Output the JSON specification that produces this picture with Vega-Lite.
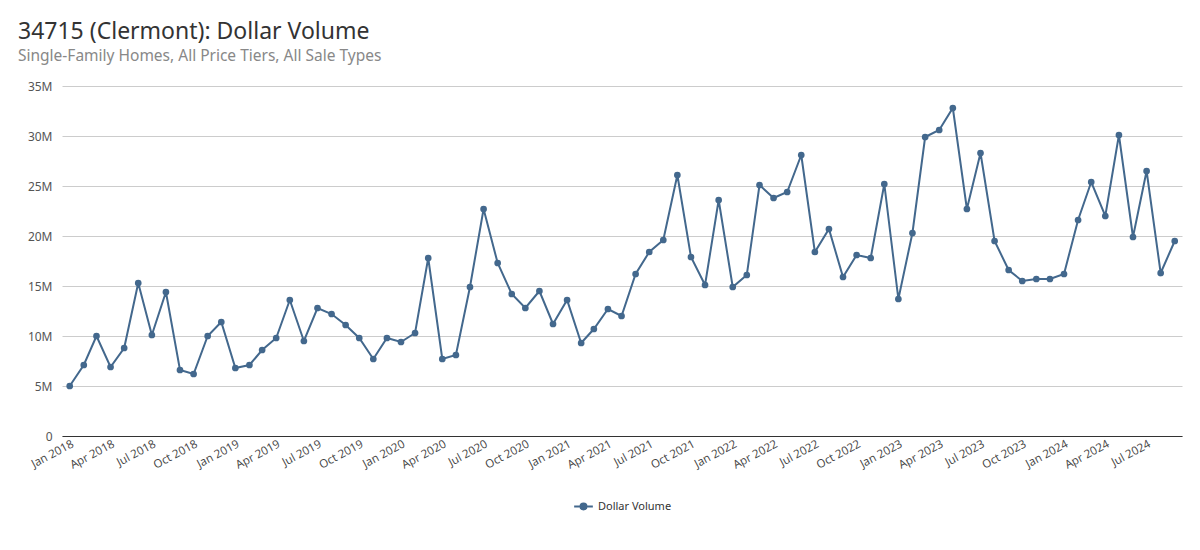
{
  "$schema": "https://vega.github.io/schema/vega-lite/v6.json",
  "width": 1200,
  "height": 550,
  "autosize": {"type": "fit", "contains": "padding"},
  "padding": {"left": 18, "top": 20, "right": 18, "bottom": 36},
  "background": "white",
  "title": {
    "text": "34715 (Clermont): Dollar Volume",
    "subtitle": "Single-Family Homes, All Price Tiers, All Sale Types",
    "anchor": "start",
    "frame": "group",
    "dx": -44,
    "font": "Noto Sans",
    "fontSize": 23,
    "fontWeight": "normal",
    "color": "#333333",
    "subtitleFont": "Noto Sans",
    "subtitleFontSize": 15.5,
    "subtitleColor": "#888888",
    "subtitlePadding": 5,
    "offset": 16
  },
  "config": {
    "view": {"stroke": null},
    "font": "Noto Sans",
    "legend": {"layout": {"bottom": {"anchor": "middle"}}}
  },
  "data": {
    "values": [
      {"date": "2018-01-01", "v": 5.0},
      {"date": "2018-02-01", "v": 7.1},
      {"date": "2018-03-01", "v": 10.0},
      {"date": "2018-04-01", "v": 6.9},
      {"date": "2018-05-01", "v": 8.8},
      {"date": "2018-06-01", "v": 15.3},
      {"date": "2018-07-01", "v": 10.1},
      {"date": "2018-08-01", "v": 14.4},
      {"date": "2018-09-01", "v": 6.6},
      {"date": "2018-10-01", "v": 6.2},
      {"date": "2018-11-01", "v": 10.0},
      {"date": "2018-12-01", "v": 11.4},
      {"date": "2019-01-01", "v": 6.8},
      {"date": "2019-02-01", "v": 7.1},
      {"date": "2019-03-01", "v": 8.6},
      {"date": "2019-04-01", "v": 9.8},
      {"date": "2019-05-01", "v": 13.6},
      {"date": "2019-06-01", "v": 9.5},
      {"date": "2019-07-01", "v": 12.8},
      {"date": "2019-08-01", "v": 12.2},
      {"date": "2019-09-01", "v": 11.1},
      {"date": "2019-10-01", "v": 9.8},
      {"date": "2019-11-01", "v": 7.7},
      {"date": "2019-12-01", "v": 9.8},
      {"date": "2020-01-01", "v": 9.4},
      {"date": "2020-02-01", "v": 10.3},
      {"date": "2020-03-01", "v": 17.8},
      {"date": "2020-04-01", "v": 7.7},
      {"date": "2020-05-01", "v": 8.1},
      {"date": "2020-06-01", "v": 14.9},
      {"date": "2020-07-01", "v": 22.7},
      {"date": "2020-08-01", "v": 17.3},
      {"date": "2020-09-01", "v": 14.2},
      {"date": "2020-10-01", "v": 12.8},
      {"date": "2020-11-01", "v": 14.5},
      {"date": "2020-12-01", "v": 11.2},
      {"date": "2021-01-01", "v": 13.6},
      {"date": "2021-02-01", "v": 9.3},
      {"date": "2021-03-01", "v": 10.7},
      {"date": "2021-04-01", "v": 12.7},
      {"date": "2021-05-01", "v": 12.0},
      {"date": "2021-06-01", "v": 16.2},
      {"date": "2021-07-01", "v": 18.4},
      {"date": "2021-08-01", "v": 19.6},
      {"date": "2021-09-01", "v": 26.1},
      {"date": "2021-10-01", "v": 17.9},
      {"date": "2021-11-01", "v": 15.1},
      {"date": "2021-12-01", "v": 23.6},
      {"date": "2022-01-01", "v": 14.9},
      {"date": "2022-02-01", "v": 16.1},
      {"date": "2022-03-01", "v": 25.1},
      {"date": "2022-04-01", "v": 23.8},
      {"date": "2022-05-01", "v": 24.4},
      {"date": "2022-06-01", "v": 28.1},
      {"date": "2022-07-01", "v": 18.4},
      {"date": "2022-08-01", "v": 20.7},
      {"date": "2022-09-01", "v": 15.9},
      {"date": "2022-10-01", "v": 18.1},
      {"date": "2022-11-01", "v": 17.8},
      {"date": "2022-12-01", "v": 25.2},
      {"date": "2023-01-01", "v": 13.7},
      {"date": "2023-02-01", "v": 20.3},
      {"date": "2023-03-01", "v": 29.9},
      {"date": "2023-04-01", "v": 30.6},
      {"date": "2023-05-01", "v": 32.8},
      {"date": "2023-06-01", "v": 22.7},
      {"date": "2023-07-01", "v": 28.3},
      {"date": "2023-08-01", "v": 19.5},
      {"date": "2023-09-01", "v": 16.6},
      {"date": "2023-10-01", "v": 15.5},
      {"date": "2023-11-01", "v": 15.7},
      {"date": "2023-12-01", "v": 15.7},
      {"date": "2024-01-01", "v": 16.2},
      {"date": "2024-02-01", "v": 21.6},
      {"date": "2024-03-01", "v": 25.4},
      {"date": "2024-04-01", "v": 22.0},
      {"date": "2024-05-01", "v": 30.1},
      {"date": "2024-06-01", "v": 19.9},
      {"date": "2024-07-01", "v": 26.5},
      {"date": "2024-08-01", "v": 16.3},
      {"date": "2024-09-01", "v": 19.5}
    ]
  },
  "transform": [{"calculate": "datum.v * 1000000", "as": "value"}],
  "mark": {"type": "line", "strokeWidth": 2, "point": {"filled": true, "size": 45}},
  "encoding": {
    "x": {
      "field": "date",
      "type": "temporal",
      "title": null,
      "scale": {"domain": ["2017-12-15", "2024-09-17"]},
      "axis": {
        "format": "%b %Y",
        "tickCount": {"interval": "month", "step": 3},
        "labelAngle": -28,
        "labelAlign": "right",
        "labelBaseline": "top",
        "labelFont": "Open Sans",
        "labelFontSize": 11.5,
        "labelColor": "#444444",
        "labelPadding": 2,
        "ticks": false,
        "grid": false,
        "domainColor": "#333333",
        "domainWidth": 1.2,
        "labelOverlap": false
      }
    },
    "y": {
      "field": "value",
      "type": "quantitative",
      "title": null,
      "scale": {"domain": [0, 35000000], "nice": false},
      "axis": {
        "labelExpr": "datum.value == 0 ? '0' : format(datum.value, '~s')",
        "values": [0, 5000000, 10000000, 15000000, 20000000, 25000000, 30000000, 35000000],
        "ticks": false,
        "domain": false,
        "gridColor": "#cccccc",
        "labelFont": "Noto Sans",
        "labelFontSize": 12,
        "labelColor": "#555555",
        "labelPadding": 10
      }
    },
    "color": {
      "datum": "Dollar Volume",
      "type": "nominal",
      "scale": {"range": ["#43688d"]},
      "legend": {
        "title": null,
        "orient": "bottom",
        "direction": "horizontal",
        "offset": 25,
        "symbolType": "M-1,0L1,0M-0.32,0A0.32,0.32 0 1,1 0.32,0A0.32,0.32 0 1,1 -0.32,0Z",
        "symbolSize": 350,
        "symbolStrokeWidth": 2,
        "labelFont": "Noto Sans",
        "labelFontSize": 11,
        "labelColor": "#333333"
      }
    }
  }
}
